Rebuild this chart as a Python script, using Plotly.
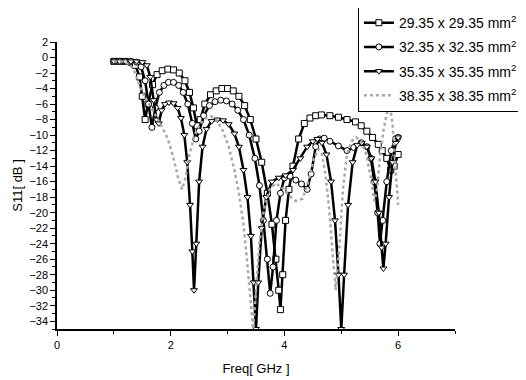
import plotly.graph_objects as go

names = ["29.35 x 29.35 mm<sup>2</sup>", "32.35 x 32.35 mm<sup>2</sup>",
         "35.35 x 35.35 mm<sup>2</sup>", "38.35 x 38.35 mm<sup>2</sup>"]

f1 = [1.00, 1.10, 1.20, 1.30, 1.38, 1.45, 1.50, 1.55, 1.60, 1.68, 1.76, 1.85, 1.95, 2.05, 2.15, 2.25, 2.33, 2.40, 2.46, 2.52,
      2.60, 2.70, 2.80, 2.90, 3.00, 3.10, 3.20, 3.30, 3.40, 3.50, 3.60, 3.70, 3.78, 3.85, 3.90, 3.93, 3.97, 4.02, 4.08, 4.15,
      4.25, 4.35, 4.45, 4.55, 4.65, 4.80, 4.95, 5.10, 5.25, 5.35, 5.45, 5.55, 5.65, 5.72, 5.80, 5.87, 5.93, 6.00]
s1 = [-0.5, -0.5, -0.5, -0.6, -1.0, -2.5, -5, -8, -6, -3.5, -2.2, -1.7, -1.5, -1.6, -2.0, -3.0, -4.5, -6.5, -8.8, -8.0,
      -6.0, -4.8, -4.3, -4.0, -4.0, -4.3, -5.0, -6.2, -8.0, -10.5, -13.5, -17.5, -21.5, -26, -30, -32.5, -28, -21, -17, -14,
      -10.5, -8.5, -7.8, -7.5, -7.4, -7.5, -7.7, -8.0, -8.3, -8.8, -9.5, -10.3, -11.2, -12.0, -13.0, -14.5, -14.0, -12.5]

f2 = [1.00, 1.10, 1.20, 1.30, 1.40, 1.48, 1.55, 1.61, 1.67, 1.73, 1.80, 1.88, 1.96, 2.05, 2.14, 2.22, 2.30, 2.38, 2.44, 2.50,
      2.58, 2.68, 2.78, 2.88, 2.98, 3.08, 3.18, 3.28, 3.38, 3.48, 3.56, 3.63, 3.70, 3.75, 3.80, 3.86, 3.93, 4.00, 4.10, 4.20,
      4.30, 4.40, 4.47, 4.55, 4.62, 4.70, 4.80, 4.95, 5.10, 5.22, 5.35, 5.45, 5.52, 5.58, 5.64, 5.68, 5.73, 5.80, 5.88, 5.95, 6.00]
s2 = [-0.5, -0.5, -0.5, -0.5, -0.6, -1.2, -3, -6, -9, -6.5, -4.5, -3.6, -3.2, -3.2, -3.6, -4.5, -6.0, -8.5, -10.5, -9.5,
      -7.5, -6.2, -5.7, -5.5, -5.6, -6.0, -6.8, -8.0, -10, -13, -16.5, -21, -26, -30.4, -27, -21, -17.5, -15.5, -15.3, -15.8,
      -16.3, -17.0, -15.0, -11.5, -10.5, -10.4, -10.8, -11.4, -12.0, -11.6, -11.0, -11.5, -13, -16, -20, -24, -21, -16, -12, -10.5, -10.3]

f3 = [1.00, 1.10, 1.20, 1.30, 1.40, 1.50, 1.58, 1.64, 1.70, 1.75, 1.79, 1.84, 1.90, 1.97, 2.05, 2.12, 2.18, 2.24, 2.29, 2.34,
      2.38, 2.41, 2.45, 2.50, 2.56, 2.63, 2.72, 2.82, 2.92, 3.02, 3.12, 3.20, 3.28, 3.35, 3.41, 3.46, 3.50, 3.54, 3.60, 3.68,
      3.78, 3.90, 4.02, 4.15, 4.28, 4.40, 4.50, 4.58, 4.66, 4.74, 4.82, 4.89, 4.95, 5.00, 5.05, 5.12, 5.20, 5.28, 5.36, 5.45,
      5.53, 5.60, 5.66, 5.71, 5.74, 5.78, 5.84, 5.90, 5.96, 6.00]
s3 = [-0.5, -0.5, -0.5, -0.5, -0.5, -0.6, -1.0, -2.5, -5.5, -8.0, -8.5, -6.8, -6.0, -5.8, -5.9, -6.5, -7.8, -10, -13.5, -19,
      -25, -30, -24, -16, -11.5, -9.2, -8.2, -8.0, -8.1, -8.6, -9.8, -11.5, -14.5, -18, -23, -29, -35, -29, -22, -18,
      -16, -15.5, -15.2, -14.5, -13, -11.5, -10.8, -10.5, -11, -12.5, -16, -21, -28, -35, -28, -19, -13.5, -11.3, -11.0, -11.5,
      -13, -16, -20, -24.5, -27.2, -24, -18, -13.5, -11, -10.3]

f4 = [1.00, 1.10, 1.20, 1.28, 1.35, 1.42, 1.50, 1.58, 1.66, 1.75, 1.85, 1.95, 2.05, 2.13, 2.20, 2.26, 2.33, 2.42, 2.52, 2.62,
      2.72, 2.82, 2.92, 3.02, 3.12, 3.20, 3.28, 3.34, 3.40, 3.45, 3.50, 3.56, 3.64, 3.74, 3.85, 3.96, 4.08, 4.20, 4.32, 4.42,
      4.52, 4.60, 4.66, 4.72, 4.78, 4.84, 4.90, 4.96, 5.03, 5.10, 5.18, 5.26, 5.35, 5.44, 5.52, 5.58, 5.63, 5.68, 5.74, 5.80,
      5.86, 5.90, 5.94, 5.97, 6.00]
s4 = [-0.5, -0.5, -0.6, -0.9, -1.6, -3.0, -4.5, -5.5, -6.5, -7.8, -9.0, -10.5, -13, -15.5, -17, -15.5, -12.5, -10, -8.5, -7.8,
      -7.6, -8.2, -9.5, -11.5, -14.5, -17.5, -21.5, -26, -31, -35, -30, -24, -19.5, -17, -16.2, -16.8, -17.8, -18.5, -18.2, -16,
      -13, -11.8, -12.5, -15, -19, -24, -30, -25, -17, -12.5, -10.8, -10.3, -10.8, -12.5, -15.5, -18.5, -17, -13, -9.5, -7.2,
      -6.5, -8.5, -13, -16.5, -19]

x_ticks = [0, 2, 4, 6]
y_ticks = list(range(-34, 3, 2))

fig = go.Figure()
for i, (fx, sy, nm, sym) in enumerate([(f1, s1, names[0], "square"), (f2, s2, names[1], "circle"),
                                       (f3, s3, names[2], "triangle-down")]):
    fig.add_trace(go.Scatter(x=fx, y=sy, name=nm, mode="lines+markers", legendgroup=f"g{i}",
                             line=dict(color="black", width=2.5),
                             marker=dict(symbol=sym, size=6, color="white", line=dict(color="black", width=1))))
fig.add_trace(go.Scatter(x=f4, y=s4, name=names[3], mode="lines", legendgroup="g3",
                         line=dict(color="#a8a8a8", width=2.5, dash="dot")))

axis_common = dict(showline=True, linecolor="black", linewidth=1.5, ticks="outside", ticklen=5,
                   tickcolor="black", tickwidth=1, showgrid=False, zeroline=False, mirror=False,
                   automargin=False,
                   tickfont=dict(family="Liberation Sans, Arial", size=11, color="black"))

fig.update_layout(
    width=526, height=380,
    margin=dict(l=49, r=79, t=34, b=59, autoexpand=False),
    plot_bgcolor="white", paper_bgcolor="white",
    xaxis=dict(range=[0, 7], tickvals=x_ticks, minor=dict(dtick=1, ticklen=3, ticks="outside", tickcolor="black"),
               title=dict(text="Freq[ GHz ]", font=dict(family="Liberation Sans, Arial", size=13, color="black"), standoff=14),
               **axis_common),
    yaxis=dict(range=[-35, 2], tickvals=y_ticks, minor=dict(dtick=1, ticklen=3, ticks="outside", tickcolor="black"),
               title=dict(text="S11[ dB ]", font=dict(family="Liberation Sans, Arial", size=13, color="black"), standoff=4),
               **axis_common),
    legend=dict(x=0.756, y=1.125, xanchor="left", yanchor="top", bgcolor="white",
                bordercolor="black", borderwidth=1,
                font=dict(family="Liberation Sans, Arial", size=14, color="black"),
                tracegroupgap=3),
    showlegend=True,
)

fig.write_html("out.html")
